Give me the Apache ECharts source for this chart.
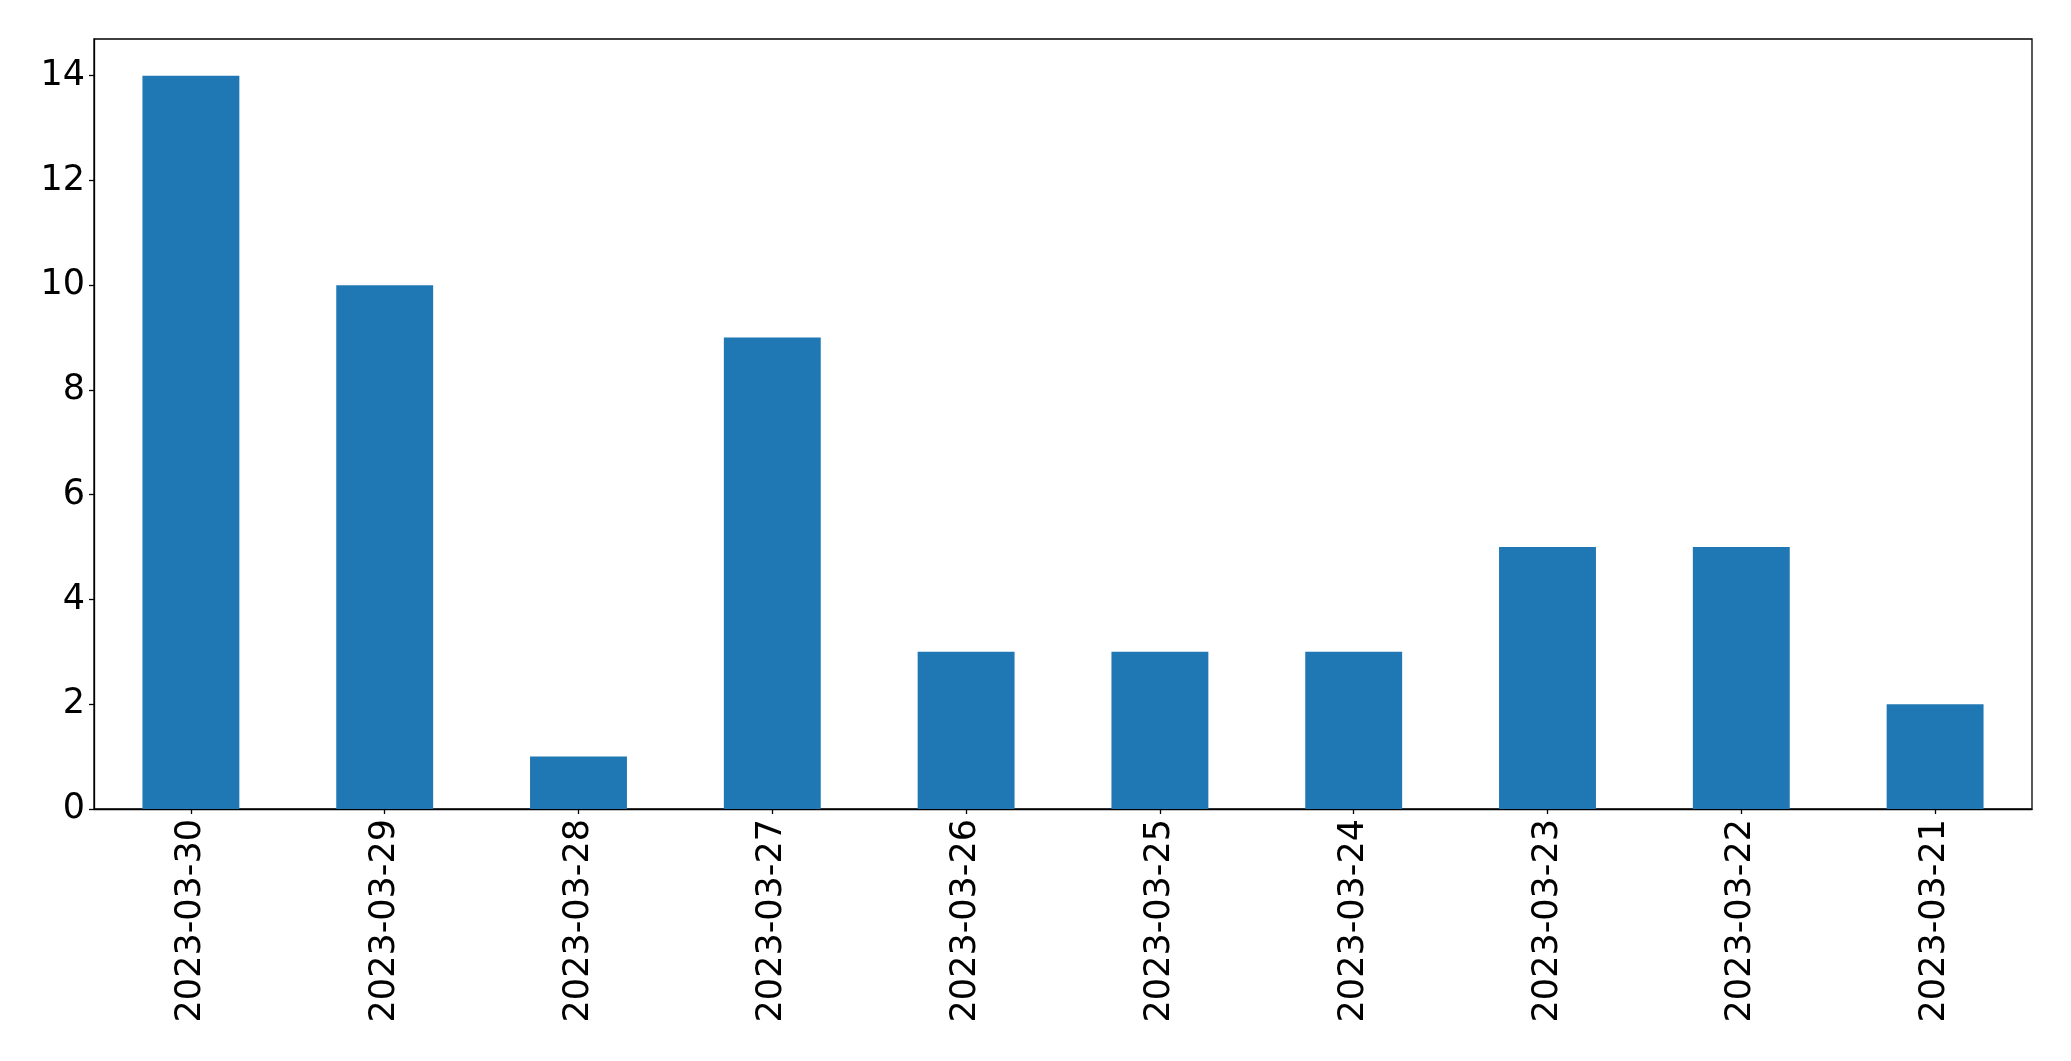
<!DOCTYPE html>
<html>
<head>
<meta charset="utf-8">
<script src="https://cdn.jsdelivr.net/npm/echarts@6/dist/echarts.min.js"></script>
<style>
html,body{margin:0;padding:0;background:#fff;}
#chart{width:2071px;height:1061px;}
</style>
</head>
<body>
<div id="chart"></div>
<script>
const categories = ['2023-03-30','2023-03-29','2023-03-28','2023-03-27','2023-03-26','2023-03-25','2023-03-24','2023-03-23','2023-03-22','2023-03-21'];
const values = [14, 10, 1, 9, 3, 3, 3, 5, 5, 2];
const yTicks = [0, 2, 4, 6, 8, 10, 12, 14];

const chart = echarts.init(document.getElementById('chart'), null, {renderer: 'canvas'});
const font = 'DejaVu Sans';
chart.setOption({
  animation: false,
  backgroundColor: '#fff',
  grid: {
    left: 94, right: 39, top: 39, bottom: 252,
    show: true, borderColor: '#000', borderWidth: 1.3, backgroundColor: 'transparent'
  },
  xAxis: {
    type: 'category',
    data: categories,
    axisLine: {show: true, lineStyle: {color: '#000', width: 1.3}},
    axisTick: {show: true, alignWithLabel: true, length: 5, lineStyle: {color: '#000', width: 1.3}},
    axisLabel: {rotate: 90, color: '#000', fontFamily: font, fontSize: 35, margin: 10, interval: 0},
    splitLine: {show: false}
  },
  yAxis: {
    type: 'value',
    min: 0, max: 14.7,
    axisLine: {show: true, lineStyle: {color: '#000', width: 1.3}},
    axisTick: {show: true, length: 5, lineStyle: {color: '#000', width: 1.3}, customValues: yTicks},
    axisLabel: {color: '#000', fontFamily: font, fontSize: 35, margin: 9, customValues: yTicks},
    splitLine: {show: false}
  },
  series: [{
    type: 'bar',
    data: values,
    barWidth: '50%',
    itemStyle: {color: '#1f77b4'}
  }]
});
</script>
</body>
</html>
